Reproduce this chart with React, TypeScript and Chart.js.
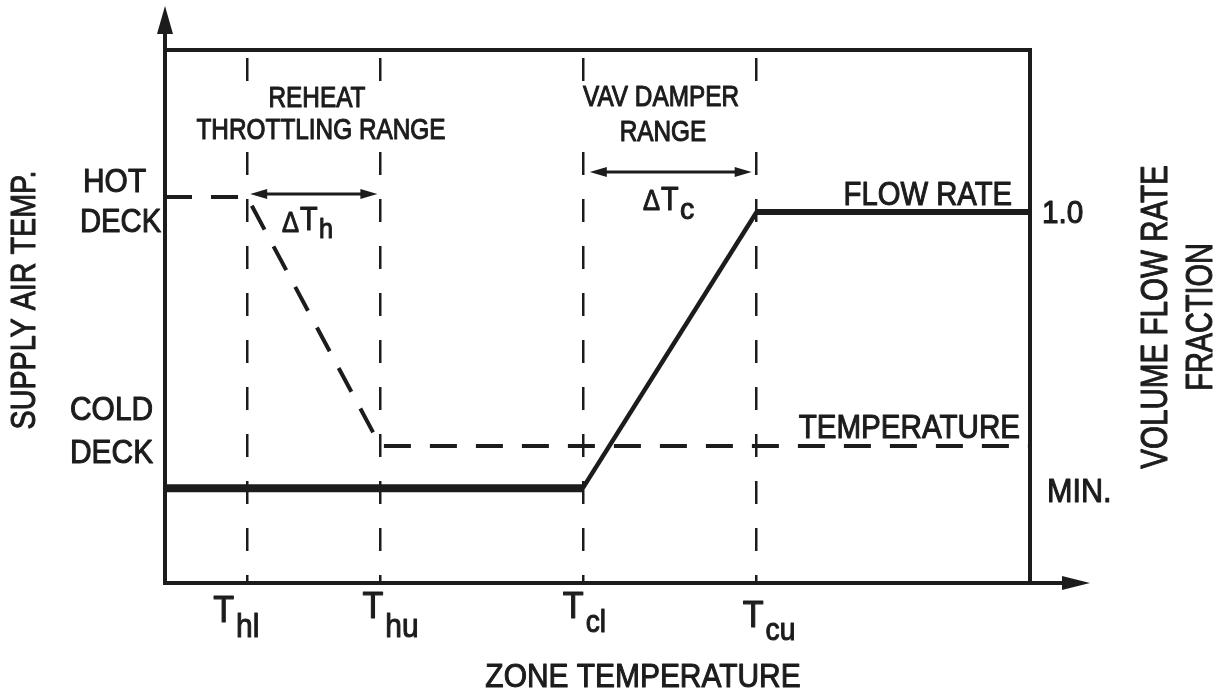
import React, { useEffect, useRef } from 'react';
import { Chart, registerables } from 'chart.js';

Chart.register(...registerables);

// ---- data (abstract zone temperature 0..100, abstract vertical 0..100) ----
const zoneTicks = [9.5, 24.9, 48.3, 68.4];
const tickSubscripts = ['hl', 'hu', 'cl', 'cu'];
const flowZone = [0, 48.3, 68.4, 100];
const flowRate = [17.8, 17.8, 69.6, 69.6];
const supplyZone = [0, 9.5, 24.9, 100];
const supplyTemp = [72.4, 72.4, 25.7, 25.7];
const flowTickValues = [69.6, 17.8];
const flowTickLabels = ['1.0', 'MIN.'];

const INK = '#1c1c1c';
const FONT = '"Liberation Sans", Arial, sans-serif';

function text(
  ctx: CanvasRenderingContext2D,
  s: string,
  x: number,
  y: number,
  size: number,
  sx: number,
  align: CanvasTextAlign = 'left',
  rot = false
) {
  ctx.save();
  ctx.translate(x, y);
  if (rot) ctx.rotate(-Math.PI / 2);
  ctx.scale(sx, 1);
  ctx.font = `${size}px ${FONT}`;
  ctx.textAlign = align;
  ctx.textBaseline = 'alphabetic';
  ctx.fillStyle = INK;
  ctx.strokeStyle = INK;
  ctx.lineWidth = 1.1;
  ctx.lineJoin = 'round';
  ctx.fillText(s, 0, 0);
  ctx.strokeText(s, 0, 0);
  ctx.restore();
}

function textWidth(ctx: CanvasRenderingContext2D, s: string, size: number, sx: number) {
  ctx.save();
  ctx.font = `${size}px ${FONT}`;
  const w = ctx.measureText(s).width * sx;
  ctx.restore();
  return w;
}

function head(ctx: CanvasRenderingContext2D, tx: number, ty: number, dx: number, dy: number, len: number, half: number) {
  const bx = tx - dx * len;
  const by = ty - dy * len;
  const px = -dy;
  const py = dx;
  ctx.beginPath();
  ctx.moveTo(tx, ty);
  ctx.lineTo(bx + px * half, by + py * half);
  ctx.lineTo(bx - px * half, by - py * half);
  ctx.closePath();
  ctx.fill();
}

function dblArrow(ctx: CanvasRenderingContext2D, x1: number, x2: number, y: number) {
  ctx.save();
  ctx.strokeStyle = INK;
  ctx.fillStyle = INK;
  ctx.lineWidth = 3;
  ctx.beginPath();
  ctx.moveTo(x1 + 8, y);
  ctx.lineTo(x2 - 8, y);
  ctx.stroke();
  head(ctx, x1, y, -1, 0, 17, 5);
  head(ctx, x2, y, 1, 0, 17, 5);
  ctx.restore();
}

const annotate = {
  id: 'annotate',
  afterDraw(chart: any) {
    const ctx: CanvasRenderingContext2D = chart.ctx;
    const { left, right, top, bottom } = chart.chartArea;
    const xs = chart.scales.x;
    const ys = chart.scales.y;
    const px = (v: number) => xs.getPixelForValue(v);
    const py = (v: number) => ys.getPixelForValue(v);

    // frame and axes
    ctx.save();
    ctx.strokeStyle = INK;
    ctx.fillStyle = INK;
    ctx.lineWidth = 4;
    ctx.lineCap = 'butt';
    ctx.beginPath();
    ctx.moveTo(left, bottom + 2);
    ctx.lineTo(left, 30);
    ctx.moveTo(left - 2, top);
    ctx.lineTo(right + 2, top);
    ctx.moveTo(right, top);
    ctx.lineTo(right, bottom);
    ctx.moveTo(left - 2, bottom);
    ctx.lineTo(right + 36, bottom);
    ctx.stroke();
    head(ctx, left, 6, 0, -1, 28, 8);
    head(ctx, right + 60, bottom, 1, 0, 28, 7);
    ctx.restore();

    // white backing behind the range headings (interrupts the dashed guides)
    ctx.save();
    ctx.fillStyle = '#ffffff';
    ctx.fillRect(188, 82, 268, 63);
    ctx.fillRect(572, 82, 194, 64);
    ctx.restore();

    text(ctx, 'REHEAT', 317, 107, 29, 0.84, 'center');
    text(ctx, 'THROTTLING RANGE', 321, 139, 29, 0.84, 'center');
    text(ctx, 'VAV DAMPER', 661, 106, 29, 0.84, 'center');
    text(ctx, 'RANGE', 663, 141, 29, 0.84, 'center');

    // delta arrows
    const hotY = py(supplyTemp[0]);
    dblArrow(ctx, px(zoneTicks[0]) + 3, px(zoneTicks[1]) - 3, hotY - 3);
    dblArrow(ctx, px(zoneTicks[2]) + 7, px(zoneTicks[3]) - 5, 172);
    text(ctx, '\u0394', 282, 232, 30, 0.85);
    text(ctx, 'T', 300, 230, 34, 0.85);
    text(ctx, 'h', 319, 238, 28, 0.9);
    text(ctx, '\u0394', 643, 210, 30, 0.85);
    text(ctx, 'T', 661, 210, 34, 0.85);
    text(ctx, 'c', 680, 219, 30, 0.95);

    // deck labels
    const coldY = py(supplyTemp[3]);
    text(ctx, 'HOT', 83, hotY - 5, 34, 0.88);
    text(ctx, 'DECK', 80, hotY + 35, 34, 0.86);
    text(ctx, 'COLD', 70, coldY - 26, 34, 0.88);
    text(ctx, 'DECK', 70, coldY + 17, 34, 0.88);

    // series labels
    text(ctx, 'FLOW RATE', 1012, py(flowRate[3]) - 7, 34, 0.86, 'right');
    text(ctx, 'TEMPERATURE', 1020, coldY - 8, 34, 0.87, 'right');

    // right-axis values
    text(ctx, flowTickLabels[0], 1042, py(flowTickValues[0]) + 11, 32, 0.93);
    text(ctx, flowTickLabels[1], 1047, py(flowTickValues[1]) + 14, 34, 0.9);

    // x tick labels: T with subscript
    const nudge = [
      [-34, 622, 15],
      [-18, 618, 19],
      [-20, 618, 14],
      [-14, 627, 13],
    ];
    zoneTicks.forEach((v, i) => {
      const x = px(v) + nudge[i][0];
      const base = nudge[i][1];
      text(ctx, 'T', x, base, 36, 0.95);
      const tw = textWidth(ctx, 'T', 36, 0.95);
      text(ctx, tickSubscripts[i], x + tw + 2, base + nudge[i][2], i < 2 ? 34 : 32, 0.88);
    });

    // axis titles
    text(ctx, 'ZONE TEMPERATURE', 643, 687, 34, 0.88, 'center');
    text(ctx, 'SUPPLY AIR TEMP.', 35, 300, 35, 0.82, 'center', true);
    text(ctx, 'VOLUME FLOW RATE', 1167, 317, 37, 0.8, 'center', true);
    text(ctx, 'FRACTION', 1212, 317, 37, 0.78, 'center', true);
  },
};

export default function App() {
  const ref = useRef<HTMLCanvasElement>(null);
  useEffect(() => {
    const flowData = flowZone.map((x, i) => ({ x, y: flowRate[i] }));
    const tempData = supplyZone.map((x, i) => ({ x, y: supplyTemp[i] }));
    const chart = new Chart(ref.current as HTMLCanvasElement, {
      type: 'line',
      data: {
        datasets: [
          {
            label: 'FLOW RATE',
            data: flowData,
            borderColor: INK,
            borderWidth: 6,
            pointRadius: 0,
            tension: 0,
            fill: false,
            borderJoinStyle: 'miter',
            segment: {
              borderWidth: (c: any) => (c.p0DataIndex === 0 ? 8 : c.p0DataIndex === 1 ? 4.5 : 6),
            },
          } as any,
          {
            label: 'TEMPERATURE',
            data: tempData,
            borderColor: INK,
            borderWidth: 4,
            borderDash: [27, 19],
            pointRadius: 0,
            tension: 0,
            fill: false,
          },
        ],
      },
      options: {
        responsive: false,
        animation: false,
        events: [],
        layout: { padding: { left: 165, right: 184, top: 50, bottom: 111 } },
        plugins: { legend: { display: false }, tooltip: { enabled: false } },
        scales: {
          x: {
            type: 'linear',
            min: 0,
            max: 100,
            afterBuildTicks: (axis: any) => {
              axis.ticks = zoneTicks.map((value) => ({ value }));
            },
            ticks: { display: false },
            grid: { color: INK, lineWidth: 2.5, drawTicks: false, drawOnChartArea: true },
            border: { display: false, dash: [23, 24], dashOffset: 39 },
          },
          y: {
            type: 'linear',
            min: 0,
            max: 100,
            display: false,
          },
        },
      } as any,
      plugins: [annotate],
    });
    return () => chart.destroy();
  }, []);
  return (
    <div style={{ position: 'fixed', left: 0, top: 0, width: 1214, height: 694, background: '#fff' }}>
      <canvas ref={ref} width={1214} height={694} style={{ display: 'block', width: 1214, height: 694 }} />
    </div>
  );
}
